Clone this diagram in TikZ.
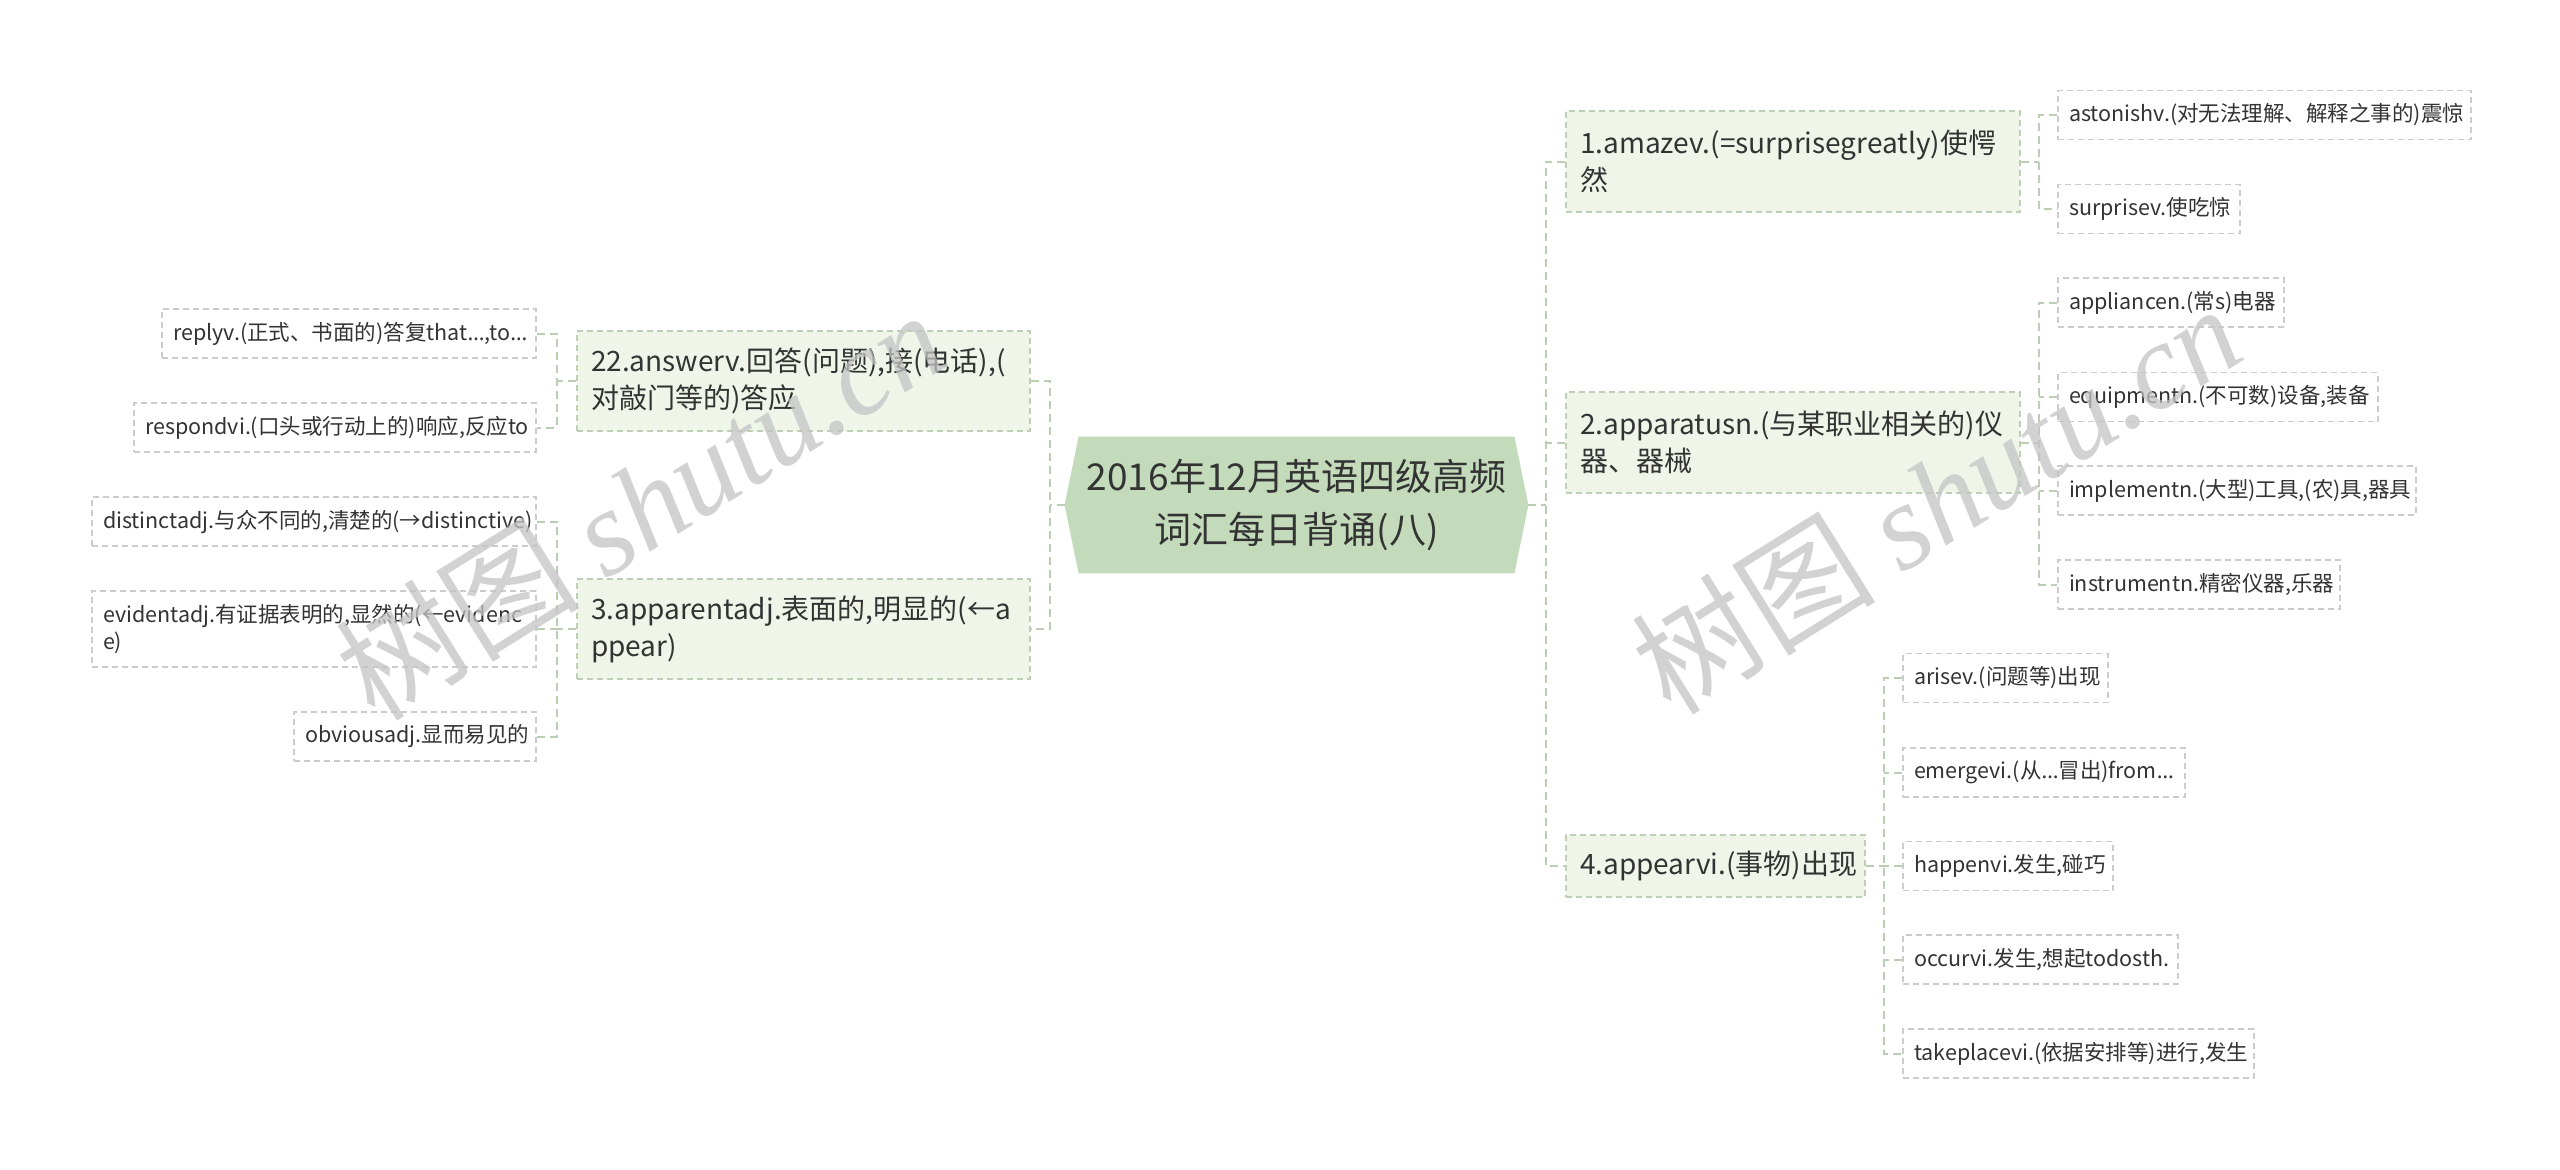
\documentclass[tikz,border=0pt]{standalone}
\usepackage{fontspec}
\setmainfont{Noto Sans CJK SC}
\newfontfamily\latinfont{Noto Sans}
\newfontfamily\wmserif{Liberation Serif}
\usetikzlibrary{backgrounds}
\definecolor{txt}{HTML}{333333}
\definecolor{cfill}{HTML}{C3DBBA}
\definecolor{lfill}{HTML}{EFF5E9}
\definecolor{lborder}{HTML}{BDD0B5}
\definecolor{leafborder}{HTML}{CCCCCC}
\definecolor{connc}{HTML}{B9CEB2}
\definecolor{wm}{HTML}{C4C4C4}
\hyphenpenalty=10000
\exhyphenpenalty=10000
\begin{document}
\begin{tikzpicture}[x=0.5pt,y=-0.5pt,
 every node/.style={text=txt},
 central/.style={minimum width=231.5pt, minimum height=68pt, align=center, inner sep=0pt, font=\fontsize{18.5}{26.5}\selectfont},
 lvone/.style={draw=lborder, fill=lfill, dash pattern=on 3pt off 2pt, line width=0.6pt, inner xsep=7pt, inner ysep=0pt, align=left, font=\fontsize{14}{18.5}\selectfont},
 leaf/.style={draw=leafborder, fill=white, dash pattern=on 3pt off 2pt, line width=0.6pt, inner xsep=5.5pt, inner ysep=0pt, align=left, minimum height=24.5pt, font=\fontsize{10.75}{13.5}\selectfont},
 connector/.style={draw=connc, line width=1pt, dash pattern=on 4pt off 2.5pt},
 watermark/.style={text=wm, opacity=0.75, rotate=32, inner sep=0pt, font=\fontsize{61}{66}\selectfont}
]
\useasboundingbox (0,0) rectangle (2560,1169);
\begin{scope}[on background layer]
\fill[white] (0,0) rectangle (2560,1169);
\end{scope}

% central
\node[central] (c) at (1296.5,505) {2016年12月英语四级高频\\词汇每日背诵(八)};
\begin{scope}[on background layer]
\fill[cfill] ([xshift=7pt]c.north west) -- ([xshift=-7pt]c.north east) -- (c.east) -- ([xshift=-7pt]c.south east) -- ([xshift=7pt]c.south west) -- (c.west) -- cycle;
\end{scope}

% level one
\node[lvone, text width=213pt, minimum height=50.5pt] (n1) at (1793,161.5) {1.amazev.(=surprisegreatly)使愕\\然};
\node[lvone, text width=213pt, minimum height=50.5pt] (n2) at (1793,442.5) {2.apparatusn.(与某职业相关的)仪\\器、器械};
\node[lvone, text width=135.5pt, minimum height=31pt] (n4) at (1715.5,866) {4.appearvi.(事物)出现};
\node[lvone, text width=212.5pt, minimum height=50pt] (n22) at (803.5,381) {22.answerv.回答(问题),接(电话),(\\对敲门等的)答应};
\node[lvone, text width=212.5pt, minimum height=50pt] (n3) at (803.5,629) {3.apparentadj.表面的,明显的(←a\\ppear)};

% leaves right
\node[leaf, text width=195.5pt] (a1) at (2264.5,115) {astonishv.(对无法理解、解释之事的)震惊};
\node[leaf, text width=80pt] (a2) at (2149,209) {surprisev.使吃惊};
\node[leaf, text width=102pt] (b1) at (2171,302.5) {appliancen.(常s)电器};
\node[leaf, text width=149pt] (b2) at (2218,397) {equipmentn.(不可数)设备,装备};
\node[leaf, text width=168pt] (b3) at (2237,490.5) {implementn.(大型)工具,(农)具,器具};
\node[leaf, text width=130pt] (b4) at (2199,584.5) {instrumentn.精密仪器,乐器};
\node[leaf, text width=91.5pt] (d1) at (2005.5,678) {arisev.(问题等)出现};
\node[leaf, text width=130pt] (d2) at (2044,772.5) {emergevi.(从{\latinfont …}冒出)from{\latinfont …}};
\node[leaf, text width=94pt] (d3) at (2008,866) {happenvi.发生,碰巧};
\node[leaf, text width=126.5pt] (d4) at (2040.5,959.5) {occurvi.发生,想起todosth.};
\node[leaf, text width=164.5pt] (d5) at (2078.5,1053.5) {takeplacevi.(依据安排等)进行,发生};

% leaves left
\node[leaf, text width=176pt] (e1) at (349,333.5) {replyv.(正式、书面的)答复that{\latinfont …},to{\latinfont …}};
\node[leaf, text width=190pt] (e2) at (335,427.5) {respondvi.(口头或行动上的)响应,反应to};
\node[leaf, text width=211pt] (f1) at (314,521.5) {distinctadj.与众不同的,清楚的(→distinctive)};
\node[leaf, text width=211pt, minimum height=38pt] (f2) at (314,629) {evidentadj.有证据表明的,显然的(←evidenc\\e)};
\node[leaf, text width=110pt] (f3) at (415,736.5) {obviousadj.显而易见的};

% connectors
\coordinate (cr) at (1546,505);
\coordinate (cl) at (1050,505);
\draw[connector] (c.east) -- (cr);
\draw[connector] (n1.west) -| (cr) |- (n4.west);
\draw[connector] (n2.west) -- (n2.west -| cr);
\draw[connector] (c.west) -- (cl);
\draw[connector] (n22.east) -| (cl) |- (n3.east);

\coordinate (t1) at (2039,161.5);
\draw[connector] (n1.east) -- (t1);
\draw[connector] (a1.west) -| (t1) |- (a2.west);

\coordinate (t2) at (2039,442.5);
\draw[connector] (n2.east) -- (t2);
\draw[connector] (b1.west) -| (t2) |- (b4.west);
\draw[connector] (b2.west) -- (b2.west -| t2);
\draw[connector] (b3.west) -- (b3.west -| t2);

\coordinate (t4) at (1884,866);
\draw[connector] (n4.east) -- (t4);
\draw[connector] (d1.west) -| (t4) |- (d5.west);
\draw[connector] (d2.west) -- (d2.west -| t4);
\draw[connector] (d3.west) -- (d3.west -| t4);
\draw[connector] (d4.west) -- (d4.west -| t4);

\coordinate (t22) at (557,381);
\draw[connector] (n22.west) -- (t22);
\draw[connector] (e1.east) -| (t22) |- (e2.east);

\coordinate (t3) at (557,629);
\draw[connector] (n3.west) -- (t3);
\draw[connector] (f1.east) -| (t3) |- (f3.east);
\draw[connector] (f2.east) -- (f2.east -| t3);

% watermarks
\node[watermark] (w1) at (640,504) {树图 {\wmserif\itshape shutu.cn}};
\node[watermark] (w2) at (1936,498) {树图 {\wmserif\itshape shutu.cn}};
\end{tikzpicture}
\end{document}
